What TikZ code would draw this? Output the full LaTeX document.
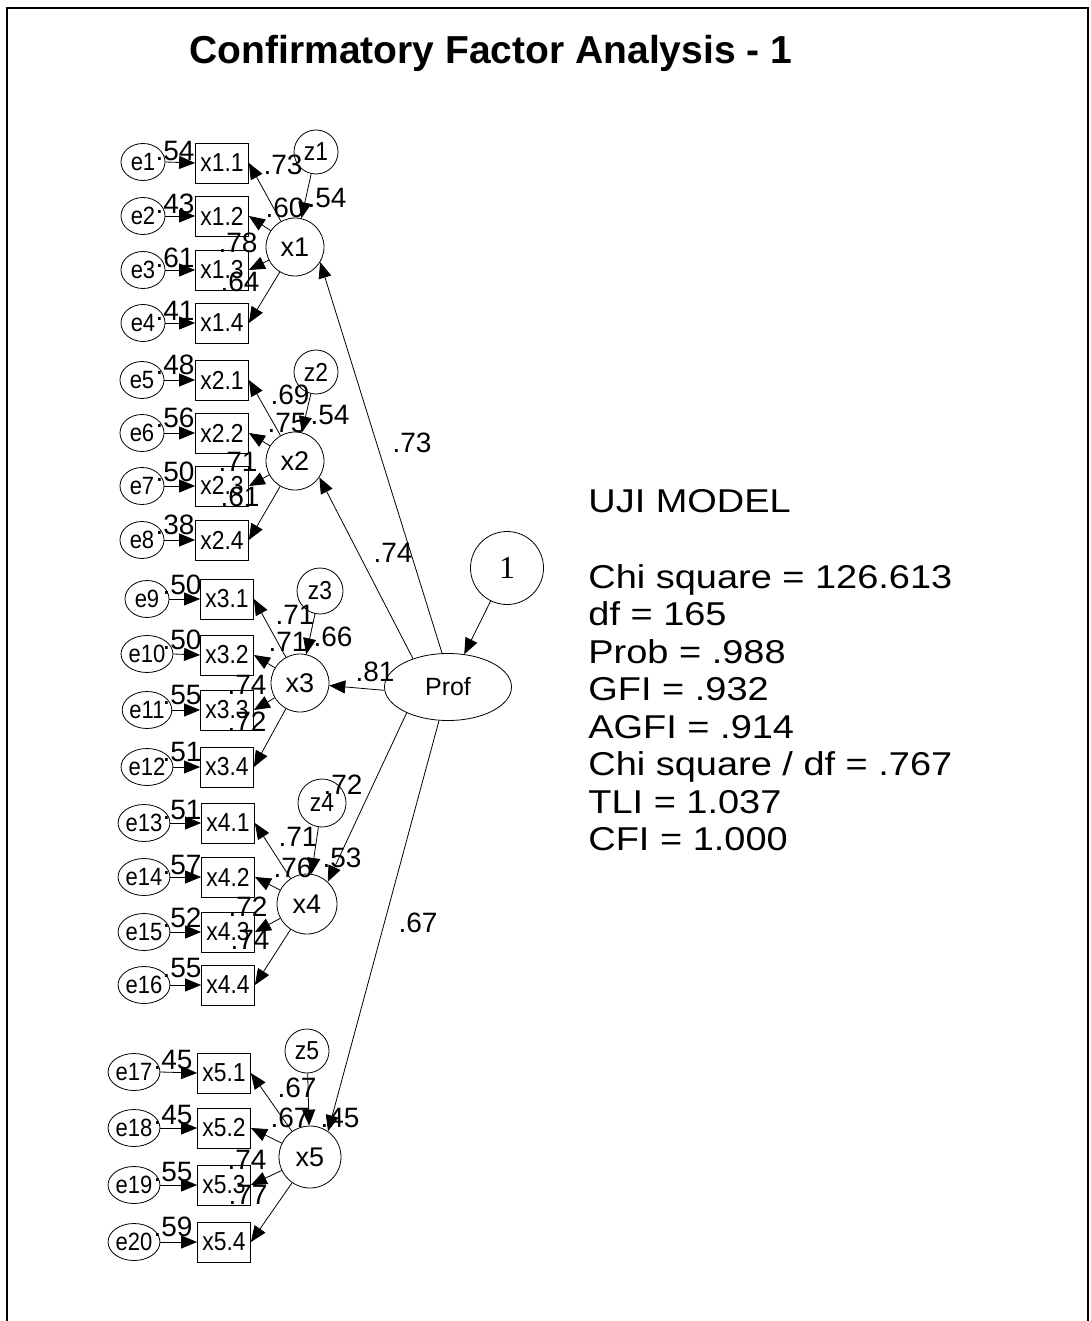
\documentclass[tikz,border=0pt]{standalone}
\usepackage{fontspec}
\setmainfont{Liberation Sans}
\newfontfamily\serifone{Liberation Serif}
\usetikzlibrary{arrows.meta,shapes.geometric}
\newcommand\fsz[1]{\fontsize{#1}{#1}\selectfont}
\newcommand\wide[1]{\scalebox{1.15}[1]{#1}}
\newcommand\nt[1]{\scalebox{0.88}[1]{#1}}
\begin{document}
\begin{tikzpicture}[x=1pt,y=-1pt,line width=0.8pt,
  errn/.style={draw,ellipse,minimum width=44pt,minimum height=37pt,inner sep=0pt,font=\fsz{25}},
  obs/.style={draw,rectangle,minimum width=53pt,minimum height=40pt,inner sep=0pt,font=\fsz{26}},
  lat/.style={draw,circle,minimum size=58pt,inner sep=0pt,font=\fsz{27}},
  dist/.style={draw,circle,minimum size=44pt,inner sep=0pt,font=\fsz{26}},
  lbl/.style={inner sep=0pt,font=\fsz{28}},
  stat/.style={inner sep=0pt,anchor=base west,font=\fsz{33}},
  arr/.style={-{Triangle[length=16pt,width=13pt]},line width=0.8pt}]
\useasboundingbox (0,0) rectangle (1091,1321);
\draw[line width=2pt] (7,1321) -- (7,8) -- (1088,8) -- (1088,1321);
\node[font=\fsz{39}\bfseries,inner sep=0pt] (title) at (491,53) {Confirmatory Factor Analysis - 1};

% ---------- statistics ----------
\node[stat] (s0) at (588,512.7) {\wide{UJI MODEL}};
\node[stat] (s1) at (588,588.3) {\wide{Chi square = 126.613}};
\node[stat] (s2) at (588,625.8) {\wide{df = 165}};
\node[stat] (s3) at (588,663.3) {\wide{Prob = .988}};
\node[stat] (s4) at (588,700.8) {\wide{GFI = .932}};
\node[stat] (s5) at (588,738.3) {\wide{AGFI = .914}};
\node[stat] (s6) at (588,775.8) {\wide{Chi square / df = .767}};
\node[stat] (s7) at (588,813.3) {\wide{TLI = 1.037}};
\node[stat] (s8) at (588,850.8) {\wide{CFI = 1.000}};

% ---------- Prof ----------
\node[draw,ellipse,minimum width=127pt,minimum height=67pt,inner sep=0pt,font=\fsz{25}] (prof) at (448,687) {Prof};
\node[draw,circle,minimum size=73pt,inner sep=0pt,font=\serifone\fsz{32}] (one) at (507,568) {1};
\draw[arr] (one) -- (prof);

% ---------- group 1 ----------
\node[errn] (e1) at (143,162) {\nt{e1}};
\node[errn] (e2) at (143,216) {\nt{e2}};
\node[errn] (e3) at (143,270) {\nt{e3}};
\node[errn] (e4) at (143,323) {\nt{e4}};
\node[obs] (b11) at (222,163) {\nt{x1.1}};
\node[obs] (b12) at (222,216) {\nt{x1.2}};
\node[obs] (b13) at (222,270) {\nt{x1.3}};
\node[obs] (b14) at (222,323) {\nt{x1.4}};
\node[lat] (x1) at (295,247) {x1};
\node[dist] (z1) at (316,152) {\nt{z1}};
% ---------- group 2 ----------
\node[errn] (e5) at (142,380) {\nt{e5}};
\node[errn] (e6) at (142,433) {\nt{e6}};
\node[errn] (e7) at (142,486) {\nt{e7}};
\node[errn] (e8) at (142,540) {\nt{e8}};
\node[obs] (b21) at (222,380) {\nt{x2.1}};
\node[obs] (b22) at (222,433) {\nt{x2.2}};
\node[obs] (b23) at (222,486) {\nt{x2.3}};
\node[obs] (b24) at (222,540) {\nt{x2.4}};
\node[lat] (x2) at (295,461) {x2};
\node[dist] (z2) at (316,372) {\nt{z2}};
% ---------- group 3 ----------
\node[errn] (e9) at (147,599) {\nt{e9}};
\node[errn] (e10) at (147,654) {\nt{e10}};
\node[errn] (e11) at (147,710) {\nt{e11}};
\node[errn] (e12) at (147,767) {\nt{e12}};
\node[obs] (b31) at (227,599) {\nt{x3.1}};
\node[obs] (b32) at (227,655) {\nt{x3.2}};
\node[obs] (b33) at (227,710) {\nt{x3.3}};
\node[obs] (b34) at (227,767) {\nt{x3.4}};
\node[lat] (x3) at (300,683) {x3};
\node[dist,minimum size=46pt] (z3) at (320,591) {\nt{z3}};
% ---------- group 4 ----------
\node[errn] (e13) at (144,823) {\nt{e13}};
\node[errn] (e14) at (144,877) {\nt{e14}};
\node[errn] (e15) at (144,932) {\nt{e15}};
\node[errn] (e16) at (144,985) {\nt{e16}};
\node[obs] (b41) at (228,823) {\nt{x4.1}};
\node[obs] (b42) at (228,877) {\nt{x4.2}};
\node[obs] (b43) at (228,932) {\nt{x4.3}};
\node[obs] (b44) at (228,985) {\nt{x4.4}};
\node[lat,minimum size=60pt] (x4) at (307,904) {x4};
\node[dist,minimum size=48pt] (z4) at (322,803) {\nt{z4}};
% ---------- group 5 ----------
\node[errn] (e17) at (134,1072) {\nt{e17}};
\node[errn] (e18) at (134,1128) {\nt{e18}};
\node[errn] (e19) at (134,1185) {\nt{e19}};
\node[errn] (e20) at (134,1242) {\nt{e20}};
\node[obs] (b51) at (224,1073) {\nt{x5.1}};
\node[obs] (b52) at (224,1128) {\nt{x5.2}};
\node[obs] (b53) at (224,1185) {\nt{x5.3}};
\node[obs] (b54) at (224,1242) {\nt{x5.4}};
\node[lat,minimum size=62pt] (x5) at (310,1157) {x5};
\node[dist] (z5) at (307,1051) {\nt{z5}};

% ---------- arrows ----------
\foreach \g/\ea/\eb/\ec/\ed in {1/1/2/3/4, 2/5/6/7/8, 3/9/10/11/12, 4/13/14/15/16, 5/17/18/19/20}{
  \draw[arr] (e\ea.east) -- (b\g1.west);
  \draw[arr] (e\eb.east) -- (b\g2.west);
  \draw[arr] (e\ec.east) -- (b\g3.west);
  \draw[arr] (e\ed.east) -- (b\g4.west);
  \draw[arr] (x\g) -- (b\g1.east);
  \draw[arr] (x\g) -- (b\g2.east);
  \draw[arr] (x\g) -- (b\g3.east);
  \draw[arr] (x\g) -- (b\g4.east);
  \draw[arr] (z\g) -- (x\g);
}
\draw[arr] (prof.100) -- (x1.-31);
\draw[arr] (prof.141) -- (x2.-34);
\draw[arr] (prof.183) -- (x3.-5);
\draw[arr] (prof.212) -- (x4.47);
\draw[arr] (prof.255) -- (x5.55);

% ---------- labels ----------
\node[lbl] (p1) at (412,443) {.73};
\node[lbl] (p2) at (393,553) {.74};
\node[lbl] (p3) at (375,672) {.81};
\node[lbl] (p4) at (343,785) {.72};
\node[lbl] (p5) at (418,923) {.67};
% group 1
\node[lbl] (r1) at (175,151) {.54};
\node[lbl] (r2) at (175,204) {.43};
\node[lbl] (r3) at (175,258) {.61};
\node[lbl] (r4) at (175,311) {.41};
\node[lbl] (l11) at (283,165) {.73};
\node[lbl] (l12) at (285,208) {.60};
\node[lbl] (l13) at (238,243) {.78};
\node[lbl] (l14) at (240,282) {.64};
\node[lbl] (q1) at (327,198) {.54};
% group 2
\node[lbl] (r5) at (175,365) {.48};
\node[lbl] (r6) at (175,418) {.56};
\node[lbl] (r7) at (175,472) {.50};
\node[lbl] (r8) at (175,525) {.38};
\node[lbl] (l21) at (290,395) {.69};
\node[lbl] (l22) at (287,423) {.75};
\node[lbl] (l23) at (238,462) {.71};
\node[lbl] (l24) at (240,497) {.61};
\node[lbl] (q2) at (330,415) {.54};
% group 3
\node[lbl] (r9) at (182,585) {.50};
\node[lbl] (r10) at (182,640) {.50};
\node[lbl] (r11) at (182,695) {.55};
\node[lbl] (r12) at (182,752) {.51};
\node[lbl] (l31) at (295,615) {.71};
\node[lbl] (l32) at (288,642) {.71};
\node[lbl] (l33) at (247,685) {.74};
\node[lbl] (l34) at (247,722) {.72};
\node[lbl] (q3) at (333,637) {.66};
% group 4
\node[lbl] (r13) at (182,810) {.51};
\node[lbl] (r14) at (182,865) {.57};
\node[lbl] (r15) at (182,918) {.52};
\node[lbl] (r16) at (182,968) {.55};
\node[lbl] (l41) at (298,837) {.71};
\node[lbl] (l42) at (293,868) {.76};
\node[lbl] (l43) at (248,907) {.72};
\node[lbl] (l44) at (250,940) {.74};
\node[lbl] (q4) at (342,858) {.53};
% group 5
\node[lbl] (r17) at (173,1060) {.45};
\node[lbl] (r18) at (173,1115) {.45};
\node[lbl] (r19) at (173,1172) {.55};
\node[lbl] (r20) at (173,1227) {.59};
\node[lbl] (l51) at (297,1088) {.67};
\node[lbl] (l52) at (290,1118) {.67};
\node[lbl] (l53) at (247,1160) {.74};
\node[lbl] (l54) at (248,1195) {.77};
\node[lbl] (q5) at (340,1118) {.45};
\end{tikzpicture}
\end{document}
